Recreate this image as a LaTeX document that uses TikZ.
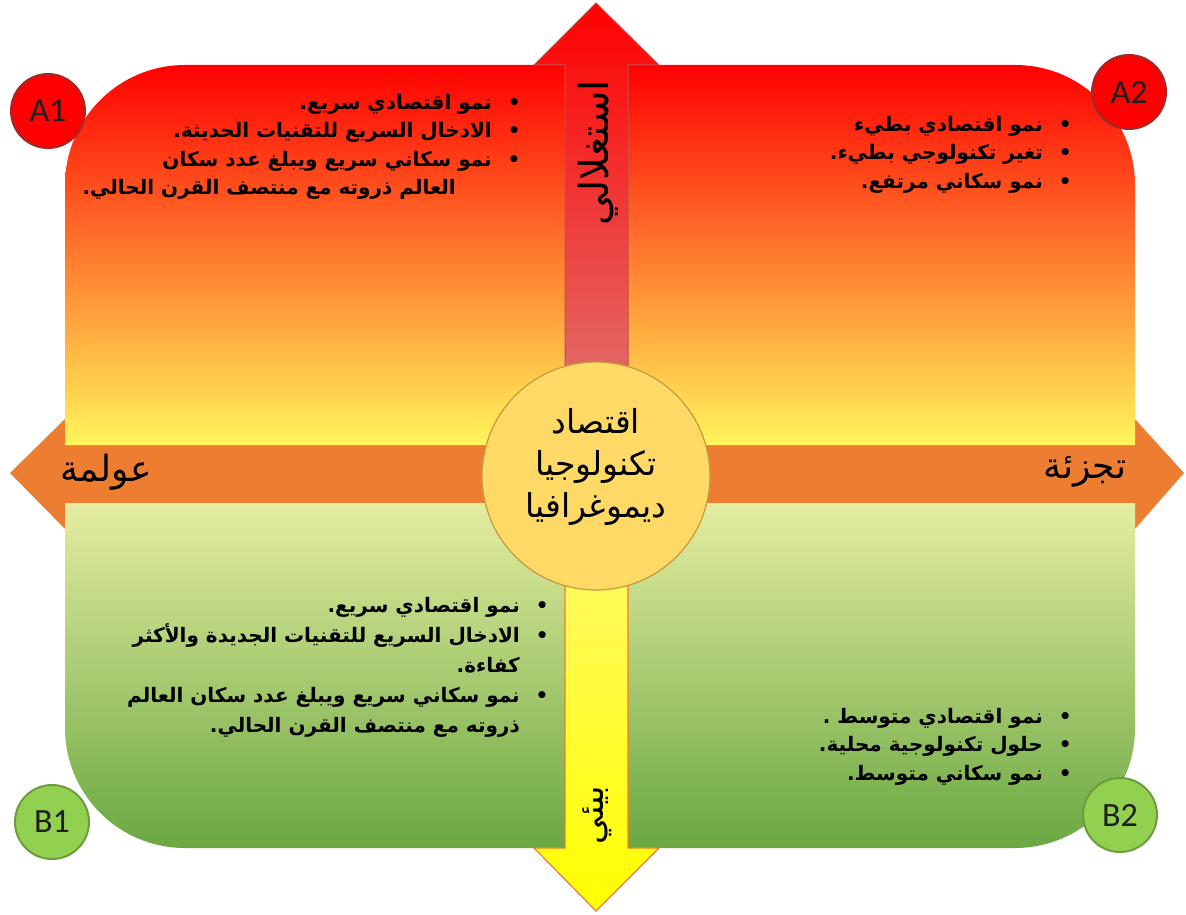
\documentclass[tikz,border=0pt]{standalone}
\usepackage{fontspec}
\setsansfont{Carlito}
\newfontfamily\arabicfont[Script=Arabic]{DejaVu Sans}
\TeXXeTstate=1
\newcommand{\artext}[1]{\beginR #1\endR}
\definecolor{snRed}{HTML}{FF0000}
\definecolor{snFlame}{HTML}{FF8C2A}
\definecolor{snButter}{HTML}{FFF55C}
\definecolor{snBand}{HTML}{ED7D31}
\definecolor{snLeaf}{HTML}{E5EDA0}
\definecolor{snSage}{HTML}{B6D48A}
\definecolor{snGreen}{HTML}{6AA842}
\definecolor{snPink}{HTML}{DD7C78}
\definecolor{snBrick}{HTML}{C0504D}
\definecolor{snLemon}{HTML}{FFF870}
\definecolor{snCore}{HTML}{FFD966}
\definecolor{snCoreEdge}{HTML}{C49A3C}
\definecolor{snLime}{HTML}{92D050}
\definecolor{snLimeEdge}{HTML}{6E9C3C}
\definecolor{snTagEdge}{HTML}{9E2A2A}
\definecolor{snInk}{HTML}{1E1E1E}
\tikzset{
  snTop/.style={top color=snRed,middle color=snFlame,bottom color=snButter},
  snBottom/.style={top color=snLeaf,middle color=snSage,bottom color=snGreen},
  snAxisBand/.style={fill=snBand},
  snUp/.style={top color=snRed,bottom color=snPink,draw=snBrick,line width=.5pt},
  snDown/.style={top color=snLemon,bottom color=yellow,draw=snBand,line width=.6pt},
  snHub/.style={circle,fill=snCore,draw=snCoreEdge,line width=.6pt,
    minimum size=114pt,inner sep=0pt,align=center,
    font=\arabicfont\fontsize{16.5}{21}\selectfont},
  snTagA/.style={circle,fill=snRed,draw=snTagEdge,line width=1pt,
    minimum size=37pt,inner sep=0pt,text=snInk,
    font=\sffamily\fontsize{17}{17}\selectfont},
  snTagB/.style={snTagA,fill=snLime,draw=snLimeEdge},
  snList/.style={anchor=north east,inner sep=0pt,text=black,
    font=\arabicfont\bfseries\fontsize{10}{14.25}\selectfont},
  snAxis/.style={font=\arabicfont\fontsize{18}{20}\selectfont,text=black},
  snVert/.style={snAxis,rotate=90}
}
\begin{document}
\begin{tikzpicture}[x=0.5pt,y=-0.5pt]
\path[use as bounding box] (0,0) rectangle (1186,914);
% horizontal axis
\path[snAxisBand] (10,473) -- (66,418) -- (66,445) -- (1134,445) -- (1134,418)
  -- (1184,473) -- (1134,530) -- (1134,503) -- (66,503) -- (66,530) -- cycle;
% quadrants
\path[snTop] (65,445) -- (65,185) arc[start angle=180,end angle=270,radius=120]
  -- (1015,65) arc[start angle=270,end angle=360,radius=120] -- (1135,445) -- cycle;
\path[snBottom] (65,503) -- (65,728) arc[start angle=180,end angle=90,radius=120]
  -- (1015,848) arc[start angle=90,end angle=0,radius=120] -- (1135,503) -- cycle;
% vertical axis
\path[snUp] (565,445) -- (565,65) -- (534,65) -- (596,3) -- (659,65) -- (628,65)
  -- (628,445) -- cycle;
\path[snDown] (565,505) -- (565,848) -- (534,848) -- (596,911) -- (659,848)
  -- (628,848) -- (628,505) -- cycle;
\node[snVert,font=\arabicfont\fontsize{20}{22}\selectfont] (expl) at (598,153)
  {\artext{استغلالي}};
\node[snVert,font=\arabicfont\fontsize{17}{20}\selectfont] (envr) at (597,815)
  {\artext{بيئي}};
\node[snAxis] (glob) at (106,472) {\artext{عولمة}};
\node[snAxis] (frag) at (1085,472) {\artext{تجزئة}};
% centre
\node[snHub] (hub) at (596,476) {\raisebox{4.5pt}[\height][\depth]{\begin{tabular}{@{}c@{}}
  \artext{اقتصاد}\\\artext{تكنولوجيا}\\\artext{ديموغرافيا}\end{tabular}}};
% scenario tags
\node[snTagA] (a1) at (48,111) {A1};
\node[snTagA] (a2) at (1129,92) {A2};
\node[snTagB] (b1) at (52,822) {B1};
\node[snTagB] (b2) at (1120,815) {B2};
% scenario lists
\node[snList] (la1) at (521,89) {\begin{tabular}[t]{@{}r@{\hspace{8pt}}c@{}}
  \artext{نمو اقتصادي سريع.} & \textbullet\\
  \artext{الادخال السريع للتقنيات الحديثة.} & \textbullet\\
  \artext{نمو سكاني سريع ويبلغ عدد سكان} & \textbullet\\
  \artext{العالم ذروته مع منتصف القرن الحالي.}\hspace{18pt} & \\
\end{tabular}};
\node[snList] (la2) at (1072,111) {\begin{tabular}[t]{@{}r@{\hspace{8pt}}c@{}}
  \artext{نمو اقتصادي بطيء} & \textbullet\\
  \artext{تغير تكنولوجي بطيء.} & \textbullet\\
  \artext{نمو سكاني مرتفع.} & \textbullet\\
\end{tabular}};
\node[snList,font=\arabicfont\bfseries\fontsize{10}{15}\selectfont] (lb1) at (549,591)
  {\begin{tabular}[t]{@{}r@{\hspace{8pt}}c@{}}
  \artext{نمو اقتصادي سريع.} & \textbullet\\
  \artext{الادخال السريع للتقنيات الجديدة والأكثر} & \textbullet\\
  \artext{كفاءة.} & \\
  \artext{نمو سكاني سريع ويبلغ عدد سكان العالم} & \textbullet\\
  \artext{ذروته مع منتصف القرن الحالي.} & \\
\end{tabular}};
\node[snList] (lb2) at (1072,703) {\begin{tabular}[t]{@{}r@{\hspace{8pt}}c@{}}
  \artext{نمو اقتصادي متوسط .} & \textbullet\\
  \artext{حلول تكنولوجية محلية.} & \textbullet\\
  \artext{نمو سكاني متوسط.} & \textbullet\\
\end{tabular}};
\end{tikzpicture}
\end{document}
